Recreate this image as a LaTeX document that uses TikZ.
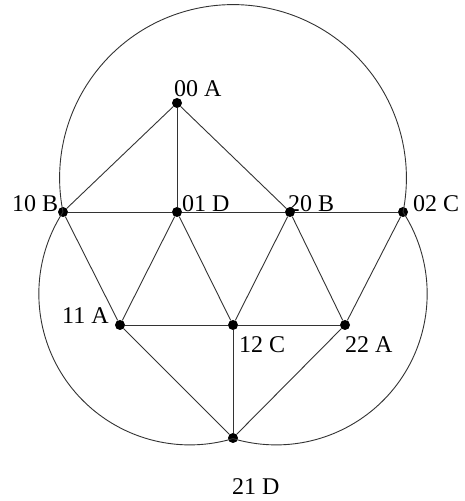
\documentclass[tikz,border=0pt]{standalone}
\usepackage{fontspec}
\setmainfont{Liberation Serif}
\begin{document}
\begin{tikzpicture}[x=1pt,y=1pt,
  dot/.style={circle,fill=black,inner sep=0pt,minimum size=10pt},
  lbl/.style={anchor=base west,inner sep=0pt,font=\fontsize{24}{27}\selectfont},
  edge/.style={draw=black!80,line width=0.9pt}]
\useasboundingbox[fill=white] (0,0) rectangle (464,501);
% vertices
\node[dot] (n00) at (177,398) {};
\node[dot] (n10) at (63,289) {};
\node[dot] (n01) at (177,289) {};
\node[dot] (n20) at (290,289) {};
\node[dot] (n02) at (403,289) {};
\node[dot] (n11) at (120,176) {};
\node[dot] (n12) at (233,176) {};
\node[dot] (n22) at (345,176) {};
\node[dot] (n21) at (233,63) {};
% labels
\node[lbl] (l00) at (174,404) {00 A};
\node[lbl] (l10) at (12,289) {10 B};
\node[lbl] (l01) at (182,289) {01 D};
\node[lbl] (l20) at (288,289) {20 B};
\node[lbl] (l02) at (413,289) {02 C};
\node[lbl] (l11) at (62,177) {11 A};
\node[lbl] (l12) at (239,148) {12 C};
\node[lbl] (l22) at (345,148) {22 A};
\node[lbl] (l21) at (232,6) {21 D};
% edges
\draw[edge] (n00) -- (n10);
\draw[edge] (n00) -- (n01);
\draw[edge] (n00) -- (n20);
\draw[edge] (n10) -- (n01);
\draw[edge] (n01) -- (n20);
\draw[edge] (n20) -- (n02);
\draw[edge] (n10) -- (n11);
\draw[edge] (n01) -- (n11);
\draw[edge] (n01) -- (n12);
\draw[edge] (n20) -- (n12);
\draw[edge] (n20) -- (n22);
\draw[edge] (n02) -- (n22);
\draw[edge] (n11) -- (n12);
\draw[edge] (n12) -- (n22);
\draw[edge] (n11) -- (n21);
\draw[edge] (n12) -- (n21);
\draw[edge] (n22) -- (n21);
% arcs
\draw[edge] (n10.center) arc[start angle=191.31,end angle=-11.31,radius=173.4];
\draw[edge] (n10.center) arc[start angle=147.15,end angle=286.63,radius=151];
\draw[edge] (n02.center) arc[start angle=32.85,end angle=-106.63,radius=151];
\end{tikzpicture}
\end{document}
